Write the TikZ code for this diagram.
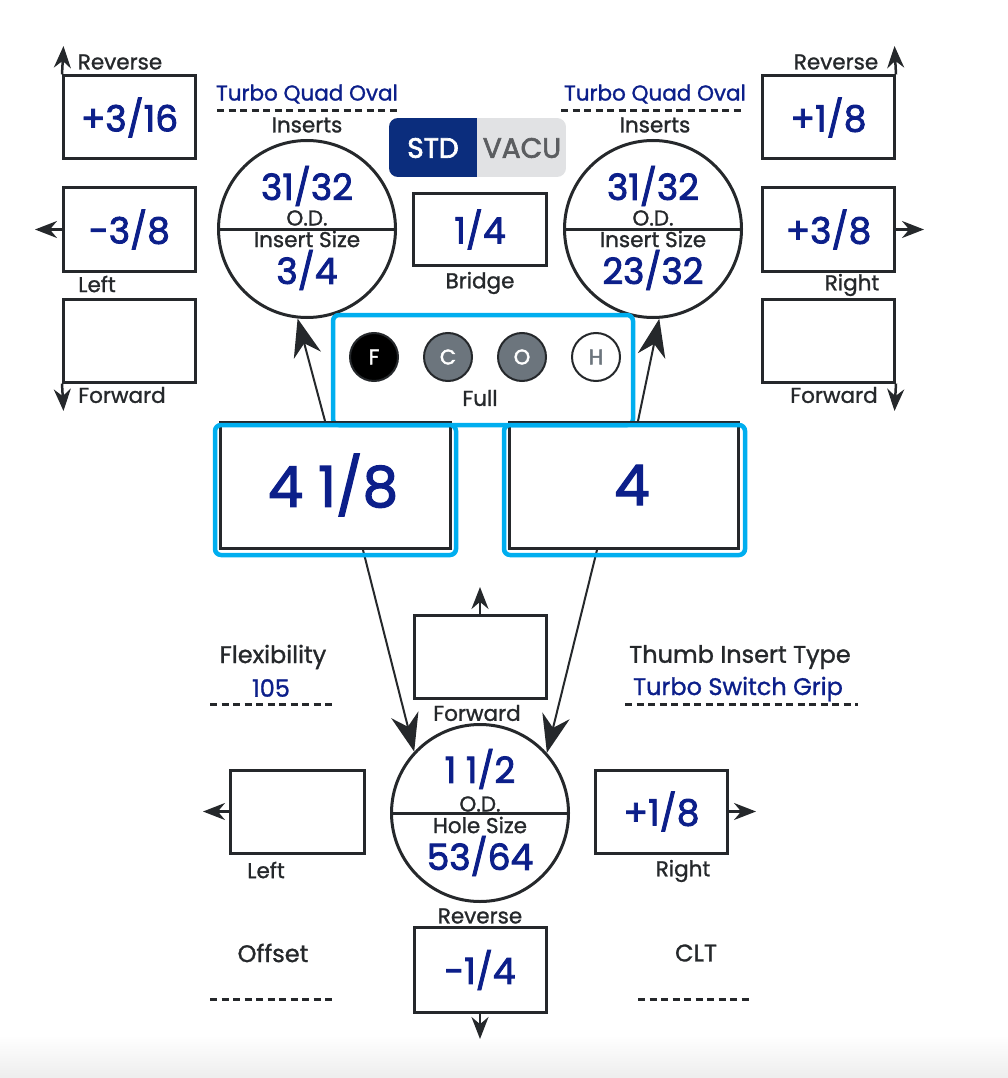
\documentclass[tikz,border=0pt]{standalone}
\usepackage{fontspec}
\setmainfont{Poppins}
\newfontfamily\lblfont{Poppins}[FakeBold=1.2]
\newfontfamily\valfont{Poppins}[FakeBold=2.4]
\usetikzlibrary{arrows.meta}
\definecolor{ink}{HTML}{25282B}
\definecolor{navy}{HTML}{0C1F8A}
\definecolor{toggle}{HTML}{0B2D7D}
\definecolor{sky}{HTML}{00AEEF}
\definecolor{slate}{HTML}{6C757D}
\definecolor{mist}{HTML}{E1E2E4}
\definecolor{fog}{HTML}{5B5D60}

\begin{document}
\begin{tikzpicture}[x=1pt,y=-1pt,
        lbl/.style={inner sep=0pt,text=ink,font=\lblfont\fontsize{21.5}{22}\selectfont},
        hdr/.style={inner sep=0pt,text=ink,font=\lblfont\fontsize{24}{24}\selectfont},
        val/.style={inner sep=0pt,text=navy,font=\valfont\fontsize{36}{36}\selectfont},
        bigval/.style={inner sep=0pt,text=navy,font=\valfont\fontsize{56}{56}\selectfont},
        pbox/.style={draw=ink,line width=3pt,minimum width=132pt,minimum height=83pt,inner sep=0pt,text=navy,font=\valfont\fontsize{36}{36}\selectfont},
        bigbox/.style={draw=ink,line width=3pt,minimum width=230pt,minimum height=126pt,inner sep=0pt},
        ring/.style={circle,draw=ink,line width=3pt,minimum size=177pt,inner sep=0pt},
        chip/.style={circle,draw=ink,line width=2pt,minimum size=48pt,inner sep=0pt,font=\valfont\fontsize{21}{21}\selectfont},
        hilite/.style={draw=sky,line width=4.5pt,rounded corners=6pt,inner sep=0pt},
        stub/.style={ink,line width=2.5pt,-{Stealth[length=22pt,width=17pt]}},
        conn/.style={ink,line width=2pt,-{Stealth[length=38pt,width=28pt]}},
        dashrule/.style={ink,line width=3pt,dash pattern=on 7pt off 4.5pt}]
        \useasboundingbox (0,0) rectangle (1008,1078);
        \shade[top color=white,bottom color=black!7] (0,1035) rectangle (1008,1078);

        \node[pbox] (lrev) at (129.5,117.5) {+3/16};
        \node[pbox] (lleft) at (129.5,229.5) {-3/8};
        \node[pbox] (lfwd) at (129.5,340.5) {};
        \coordinate (lrevtip) at (63.5,46);
        \coordinate (llefttip) at (35,229.5);
        \coordinate (lfwdtip) at (63.5,411);
        \draw[stub] (lrev.north west) -- (lrevtip);
        \draw[stub] (lleft.west) -- (llefttip);
        \draw[stub] (lfwd.south west) -- (lfwdtip);
        \node[lbl] (lrevl) at (120,62) {Reverse};
        \node[lbl] (lleftl) at (97,284) {Left};
        \node[lbl] (lfwdl) at (122,395) {Forward};

        \node[pbox] (rrev) at (828.5,117.5) {+1/8};
        \node[pbox] (rright) at (828.5,229.5) {+3/8};
        \node[pbox] (rfwd) at (828.5,340.5) {};
        \coordinate (rrevtip) at (894.5,46);
        \coordinate (rrighttip) at (924,229.5);
        \coordinate (rfwdtip) at (894.5,411);
        \draw[stub] (rrev.north east) -- (rrevtip);
        \draw[stub] (rright.east) -- (rrighttip);
        \draw[stub] (rfwd.south east) -- (rfwdtip);
        \node[lbl] (rrevl) at (836,62) {Reverse};
        \node[lbl] (rrightl) at (852,285) {Right};
        \node[lbl] (rfwdl) at (834,395) {Forward};

        \node[lbl,text=navy] (ltqo) at (307,94) {Turbo Quad Oval};
        \draw[dashrule] (217,111) -- (397,111);
        \node[lbl] (lins) at (307,125) {Inserts};
        \node[ring] (lcirc) at (307,229) {};
        \draw[ink,line width=3pt] (lcirc.west) -- (lcirc.east);
        \node[val] (lcod) at ([yshift=43pt]lcirc.center) {31/32};
        \node[lbl] (lcodl) at ([yshift=11pt]lcirc.center) {O.D.};
        \node[lbl] (lcisl) at ([yshift=-10pt]lcirc.center) {Insert Size};
        \node[val] (lcis) at ([yshift=-41pt]lcirc.center) {3/4};

        \node[lbl,text=navy] (rtqo) at (655,94) {Turbo Quad Oval};
        \draw[dashrule] (561,111) -- (743,111);
        \node[lbl] (rins) at (655,125) {Inserts};
        \node[ring] (rcirc) at (653,229) {};
        \draw[ink,line width=3pt] (rcirc.west) -- (rcirc.east);
        \node[val] (rcod) at ([yshift=43pt]rcirc.center) {31/32};
        \node[lbl] (rcodl) at ([yshift=11pt]rcirc.center) {O.D.};
        \node[lbl] (rcisl) at ([yshift=-10pt]rcirc.center) {Insert Size};
        \node[val] (rcis) at ([yshift=-41pt]rcirc.center) {23/32};

        \begin{scope}
          \clip[rounded corners=9pt] (389,118) rectangle (566,177);
          \fill[mist] (389,118) rectangle (566,177);
          \fill[toggle] (389,118) rectangle (477,177);
        \end{scope}
        \node[inner sep=0pt,text=white,font=\valfont\fontsize{28}{28}\selectfont] (std) at (433,148) {STD};
        \node[inner sep=0pt,text=fog,font=\valfont\fontsize{28}{28}\selectfont] (vacu) at (522,148) {VACU};
        \node[pbox,minimum width=133pt,minimum height=72pt] (bridge) at (480,229.5) {1/4};
        \node[lbl] (bridgel) at (480,283) {Bridge};

        \node[hilite,minimum width=300pt,minimum height=110pt] (full) at (483,370) {};
        \node[chip,fill=black,text=white] (chipf) at (374,357) {F};
        \node[chip,fill=slate,text=white] (chipc) at (448,357) {C};
        \node[chip,fill=slate,text=white] (chipo) at (522,357) {O};
        \node[chip,fill=white,text=slate] (chiph) at (596,357) {H};
        \node[lbl] (fulll) at (480,398) {Full};

        \node[bigbox] (lbig) at (335.5,485.5) {};
        \node[bigbox,minimum width=229pt] (rbig) at (624,485.5) {};
        \node[bigval] (lbigv) at (333,485) {4 1/8};
        \node[bigval] (rbigv) at (632,485) {4};

        \node[pbox] (bfwd) at (480,656.5) {};
        \node[ring] (bcirc) at (480,813) {};
        \draw[ink,line width=3pt] (bcirc.west) -- (bcirc.east);
        \node[val] (bcod) at ([yshift=44pt]bcirc.center) {1 1/2};
        \node[lbl] (bcodl) at ([yshift=9pt]bcirc.center) {O.D.};
        \node[lbl] (bchsl) at ([yshift=-12pt]bcirc.center) {Hole Size};
        \node[val] (bchs) at ([yshift=-43pt]bcirc.center) {53/64};
        \node[pbox,minimum width=134pt] (bleft) at (297.5,811.5) {};
        \node[pbox] (bright) at (661.5,811.5) {+1/8};
        \node[pbox,minimum height=85pt] (brev) at (480,970) {-1/4};

        \draw[conn] ([xshift=-10.5pt]lbig.north) -- (lcirc.-96);
        \draw[conn] ([xshift=14pt]rbig.north) -- (rcirc.-86);
        \draw[conn] ([xshift=27.5pt]lbig.south) -- (bcirc.137);
        \draw[conn] ([xshift=-27pt]rbig.south) -- (bcirc.42);
        \node[hilite,minimum width=241pt,minimum height=130pt] (lsel) at (335.5,490) {};
        \node[hilite,minimum width=241pt,minimum height=130pt] (rsel) at (624.5,490) {};

        \coordinate (bfwdtip) at (480,587);
        \coordinate (blefttip) at (203,811.5);
        \coordinate (brighttip) at (756,811.5);
        \coordinate (brevtip) at (480,1039);
        \draw[stub] (bfwd.north) -- (bfwdtip);
        \draw[stub] (bleft.west) -- (blefttip);
        \draw[stub] (bright.east) -- (brighttip);
        \draw[stub] (brev.south) -- (brevtip);
        \node[lbl] (bfwdl) at (477,713) {Forward};
        \node[lbl] (bleftl) at (266,870) {Left};
        \node[lbl] (brightl) at (683,871) {Right};
        \node[lbl] (brevl) at (480,916) {Reverse};

        \node[hdr] (flexl) at (273,657) {Flexibility};
        \node[hdr,text=navy] (flexv) at (271,688) {105};
        \draw[dashrule] (210,704) -- (334,704);
        \node[hdr] (thumbl) at (740,657) {Thumb Insert Type};
        \node[hdr,text=navy] (thumbv) at (738,689) {Turbo Switch Grip};
        \draw[dashrule] (625,704) -- (858,704);
        \node[hdr] (offl) at (273,953) {Offset};
        \draw[dashrule] (210,999) -- (334,999);
        \node[hdr] (cltl) at (696,953) {CLT};
        \draw[dashrule] (638,999) -- (750,999);
\end{tikzpicture}
\end{document}
